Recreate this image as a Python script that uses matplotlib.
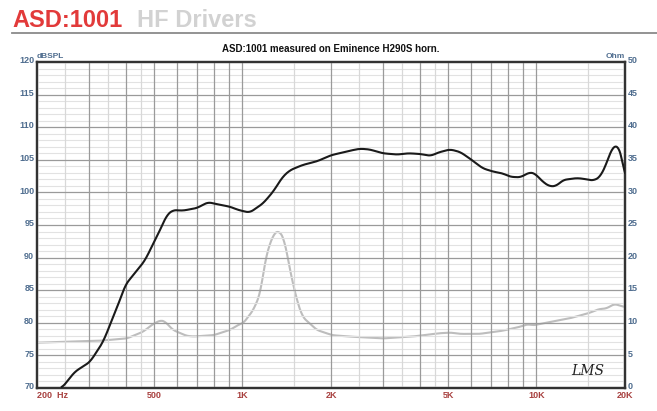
import numpy as np
import matplotlib
matplotlib.use("Agg")
import matplotlib.pyplot as plt
import matplotlib.transforms as mtransforms
from matplotlib.lines import Line2D

plt.rcParams['font.family'] = ['Liberation Sans', 'DejaVu Sans']

# SPL response (Hz, dBSPL)
spl_freq = [243, 269, 303, 336, 383, 399, 448, 465, 524, 552, 580, 626, 700,
            763, 838, 908, 968, 1058, 1174, 1271, 1370, 1450, 1600, 1800, 2000,
            2323, 2504, 2700, 3000, 3360, 3660, 4010, 4370, 4620, 5080, 5500, 5930,
            6560, 7100, 7700, 8120, 8800, 9500, 9880, 10520, 11100, 11700, 12300,
            13700, 14400, 15600, 16500, 17400, 18200, 18900, 19300, 19700, 20000]
spl_db = [70.0, 72.5, 74.0, 77.1, 83.5, 85.8, 88.6, 89.5, 94.2, 96.5, 97.3,
          97.2, 97.6, 98.5, 98.1, 97.8, 97.3, 96.9, 98.3, 100.1, 102.4, 103.4,
          104.2, 104.8, 105.7, 106.4, 106.7, 106.6, 106.0, 105.8, 106.0, 105.9,
          105.6, 106.1, 106.6, 106.2, 105.2, 103.7, 103.2, 102.9, 102.4, 102.3,
          103.1, 102.9, 101.6, 100.9, 101.0, 101.9, 102.2, 102.1, 101.8, 102.4,
          104.7, 107.2, 107.0, 106.6, 104.5, 101.8]

# Impedance (Hz, Ohm)
imp_freq = [200, 327, 404, 458, 496, 527, 545, 580, 645, 680, 797, 906, 978, 1005,
            1090, 1150, 1200, 1270, 1330, 1390, 1450, 1530, 1600, 1790, 2020, 2290,
            3000, 3500, 3800, 4680, 5100, 5500, 6400, 7700, 8800, 9360, 9700, 10500,
            13000, 15100, 16300, 17300, 18400, 20000]
imp_ohm = [6.95, 7.25, 7.6, 8.6, 9.8, 10.4, 10.2, 8.9, 8.0, 7.9, 8.1, 8.9, 9.8, 9.9,
           12.0, 14.5, 20.1, 23.5, 24.2, 22.7, 18.1, 13.5, 10.9, 8.9, 8.1, 7.9,
           7.6, 7.8, 7.9, 8.4, 8.5, 8.3, 8.3, 8.8, 9.4, 9.8, 9.6, 9.9,
           10.7, 11.5, 12.1, 12.2, 12.9, 12.4]

x_ticks = [200, 500, 1000, 2000, 5000, 10000, 20000]
x_labels = ['200  Hz', '500', '1K', '2K', '5K', '10K', '20K']
major_grid = [300, 400, 500, 600, 700, 800, 900, 1000, 2000, 3000, 4000, 5000,
              6000, 7000, 8000, 9000, 10000]
minor_grid = [250, 350, 450, 1500, 2500, 3500, 4500, 15000]

tick_blue = '#4f6d8f'
tick_red = '#a8403f'


def smooth(fx, fy, n=800, w=11):
    """Resample on a log grid and apply a short moving average."""
    lx = np.log10(fx)
    grid = np.linspace(lx[0], lx[-1], n)
    yy = np.interp(grid, lx, fy)
    k = np.ones(w) / w
    ys = np.convolve(np.pad(yy, w // 2, mode='edge'), k, mode='valid')
    return 10 ** grid, ys


fig = plt.figure(figsize=(6.57, 4.11), dpi=100)
ax = fig.add_axes([37 / 657, 23 / 411, 588 / 657, 326 / 411])
ax.set_xscale('log')
ax.set_xlim(200, 20000)
ax.set_ylim(70, 120)

# grid: light 1 dB lines, darker 5 dB lines, log frequency lines
for v in range(71, 120):
    if v % 5:
        ax.axhline(v, color='#e2e2e2', lw=0.8, zorder=1)
for v in range(75, 120, 5):
    ax.axhline(v, color='#9a9a9a', lw=0.9, zorder=2)
for f in minor_grid:
    ax.axvline(f, color='#d8d8d8', lw=0.9, zorder=1)
for f in major_grid:
    ax.axvline(f, color='#9a9a9a', lw=0.9, zorder=2)

# impedance on the right axis
ax2 = ax.twinx()
ax2.set_ylim(0, 50)
ix, iy = smooth(imp_freq, imp_ohm, 800, 9)
ax2.plot(ix, iy, color='#bdbdbd', lw=1.5, zorder=3)
ax2.set_xscale('log')
ax2.set_xlim(200, 20000)

sx, sy = smooth(spl_freq, spl_db, 800, 11)
ax.plot(sx, sy, color='#1a1a1a', lw=1.5, zorder=4)
ax.set_zorder(ax2.get_zorder() + 1)
ax.patch.set_visible(False)

ax.set_xticks(x_ticks)
ax.set_xticklabels(x_labels)
ax.xaxis.set_minor_locator(matplotlib.ticker.NullLocator())
ax.set_yticks(range(70, 121, 5))
ax2.set_yticks(range(0, 51, 5))
ax.tick_params(axis='y', length=0, pad=2, labelsize=6.5, labelcolor=tick_blue)
ax2.tick_params(axis='y', length=0, pad=2, labelsize=6.5, labelcolor=tick_blue)
ax.tick_params(axis='x', length=0, pad=2.5, labelsize=6.5, labelcolor=tick_red)

up = mtransforms.ScaledTranslation(0, 1.6 / 72, fig.dpi_scale_trans)
for lab in ax.get_yticklabels() + ax2.get_yticklabels():
    lab.set_fontweight('bold')
    lab.set_transform(lab.get_transform() + up)
for lab in ax.get_xticklabels():
    lab.set_fontweight('bold')
ax.get_xticklabels()[0].set_horizontalalignment('left')

for a in (ax, ax2):
    for s in a.spines.values():
        s.set_linewidth(1.6)
        s.set_color('#333333')

ax.text(0, 1.005, 'dBSPL', transform=ax.transAxes, fontsize=6, color=tick_blue,
        fontweight='bold', ha='left', va='bottom')
ax.text(1, 1.005, 'Ohm', transform=ax.transAxes, fontsize=6, color=tick_blue,
        fontweight='bold', ha='right', va='bottom')
ax.text(0.5, 1.025, 'ASD:1001 measured on Eminence H290S horn.',
        transform=ax.transAxes, fontsize=7, fontweight='bold', ha='center',
        va='bottom', color='#111111')
ax.text(0.965, 0.03, 'LMS', transform=ax.transAxes, fontsize=10,
        fontstyle='italic', ha='right', va='bottom', color='#222222',
        family='DejaVu Serif')

fig.text(12 / 657, 1 - 27 / 411, 'ASD:1001', fontsize=17, fontweight='bold',
         color='#e23a3a', ha='left', va='baseline')
fig.text(137 / 657, 1 - 27 / 411, 'HF Drivers', fontsize=17, fontweight='bold',
         color='#d2d2d2', ha='left', va='baseline')
fig.add_artist(Line2D([12 / 657, 1], [1 - 33.5 / 411] * 2, color='#8a8a8a',
                      lw=1.3, transform=fig.transFigure))

fig.savefig('out.png', dpi=100)
